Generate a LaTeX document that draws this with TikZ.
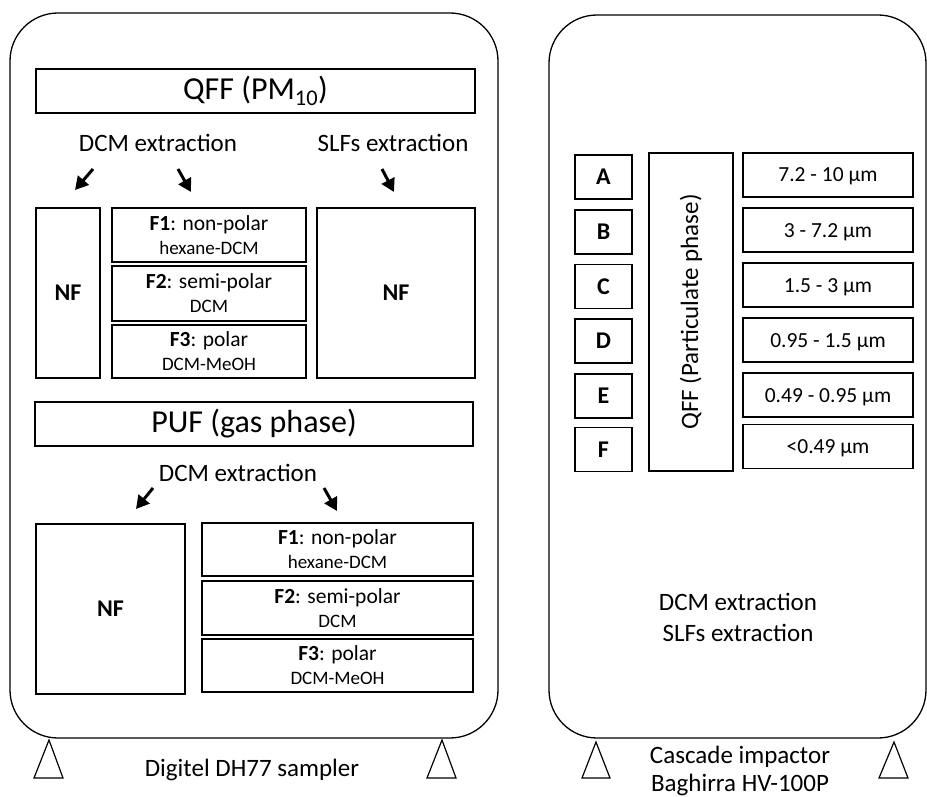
\documentclass[tikz,border=0pt]{standalone}
\usepackage{fontspec}
\setmainfont{Carlito}
\usetikzlibrary{arrows.meta}
\begin{document}
\begin{tikzpicture}[x=1pt,y=-1pt,
  box/.style={draw, line width=1.2pt, inner sep=0pt, align=center},
  frame/.style={draw, line width=1.3pt, rounded corners=48pt},
  arr/.style={line width=3pt, -{Triangle[length=13pt,width=14pt]}},
  foot/.style={draw, line width=1.2pt},
  big/.style={font=\fontsize{32}{36}\selectfont},
  mid/.style={font=\fontsize{25}{30}\selectfont},
  bnf/.style={font=\fontsize{24}{28}\selectfont\bfseries},
  frac/.style={font=\fontsize{21.5}{24}\selectfont},
  szl/.style={font=\fontsize{21.5}{25}\selectfont, text height=14pt, text depth=0pt}]
\useasboundingbox (0,0) rectangle (927,797);
\newcommand\fbx[2]{\textbf{#1}: #2}
\newcommand\sol[1]{{\fontsize{19}{24}\selectfont #1}}
% ---------- left sampler ----------
\draw[frame] (10,13) rectangle (498,738);
\node[box, big, minimum width=439pt, minimum height=44pt] (qff) at (255.5,91) {QFF (PM\textsubscript{10})};
\node[mid] (dcm1) at (158,143) {DCM extraction};
\node[mid] (slf1) at (393,143) {SLFs extraction};
\node[box, bnf, minimum width=64pt, minimum height=170pt] (nf1) at (68,293) {NF};
\node[box, frac, minimum width=194pt, minimum height=54pt] (f1a) at (209,235) {\fbx{F1}{non-polar}\\\sol{hexane-DCM}};
\node[box, frac, minimum width=194pt, minimum height=55pt] (f2a) at (209,293.5) {\fbx{F2}{semi-polar}\\\sol{DCM}};
\node[box, frac, minimum width=194pt, minimum height=53pt] (f3a) at (209,351.5) {\fbx{F3}{polar}\\\sol{DCM-MeOH}};
\node[box, bnf, minimum width=158pt, minimum height=170pt] (nf2) at (396,293) {NF};
\coordinate (a1s) at (93,169); \coordinate (a1e) at (75,190);
\coordinate (a2s) at (178,169); \coordinate (a2e) at (191,192);
\coordinate (a3s) at (382,169); \coordinate (a3e) at (394,192);
\draw[arr] (a1s) -- (a1e);
\draw[arr] (a2s) -- (a2e);
\draw[arr] (a3s) -- (a3e);
\node[box, big, minimum width=438pt, minimum height=44pt] (puf) at (254,424) {PUF (gas phase)};
\node[mid] (dcm2) at (238,473) {DCM extraction};
\node[box, bnf, minimum width=149pt, minimum height=170pt] (nf3) at (110.5,609) {NF};
\node[box, frac, minimum width=271pt, minimum height=53pt] (f1b) at (337.5,549.5) {\fbx{F1}{non-polar}\\\sol{hexane-DCM}};
\node[box, frac, minimum width=271pt, minimum height=54pt] (f2b) at (337.5,608) {\fbx{F2}{semi-polar}\\\sol{DCM}};
\node[box, frac, minimum width=271pt, minimum height=53pt] (f3b) at (337.5,665.5) {\fbx{F3}{polar}\\\sol{DCM-MeOH}};
\coordinate (a4s) at (153,488); \coordinate (a4e) at (136,509);
\coordinate (a5s) at (324,488); \coordinate (a5e) at (337,511);
\draw[arr] (a4s) -- (a4e);
\draw[arr] (a5s) -- (a5e);
\draw[foot] (49,740) -- (34,778) -- (63,778) -- cycle;
\draw[foot] (442,740) -- (427,778) -- (456,778) -- cycle;
\node[mid] (lab1) at (252,770) {Digitel DH77 sampler};
% ---------- right impactor ----------
\draw[frame] (549,15) rectangle (926,738);
\foreach \n/\y in {A/177,B/232,C/286.5,D/341,E/396,F/449.5}
  \node[box, bnf, minimum width=57pt, minimum height=44pt] (st\n) at (603.5,\y) {\n};
\node[box, font=\fontsize{25}{30}\selectfont, rotate=90, minimum width=318pt, minimum height=84pt] (qffv) at (691,312) {QFF (Particulate phase)};
\node[box, szl, minimum width=170pt, minimum height=44pt] (sA) at (828,175) {7.2 - 10 µm};
\node[box, szl, minimum width=170pt, minimum height=44pt] (sB) at (828,230) {3 - 7.2 µm};
\node[box, szl, minimum width=170pt, minimum height=44pt] (sC) at (828,285) {1.5 - 3 µm};
\node[box, szl, minimum width=170pt, minimum height=44pt] (sD) at (828,340) {0.95 - 1.5 µm};
\node[box, szl, minimum width=170pt, minimum height=44pt] (sE) at (828,395) {0.49 - 0.95 µm};
\node[box, szl, minimum width=170pt, minimum height=44pt] (sF) at (828,446.5) {<0.49 µm};
\node[align=center, font=\fontsize{25}{31}\selectfont] (ext) at (738,617) {DCM extraction\\SLFs extraction};
\draw[foot] (596,742) -- (582,778) -- (610,778) -- cycle;
\draw[foot] (894,742) -- (879,778) -- (908,778) -- cycle;
\node[align=center, font=\fontsize{25}{28}\selectfont] (lab2) at (740,771) {Cascade impactor\\Baghirra HV-100P};
\end{tikzpicture}
\end{document}
